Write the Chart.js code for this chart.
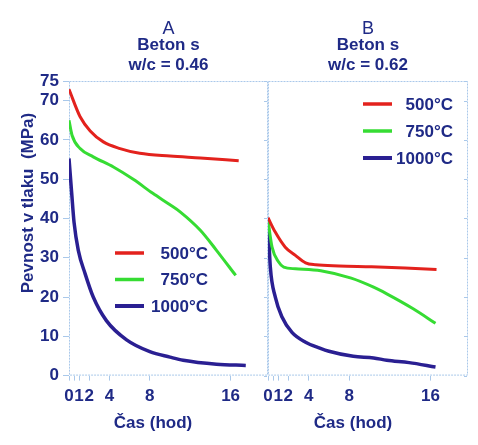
<!DOCTYPE html>
<html>
<head>
<meta charset="utf-8">
<script src="https://cdn.jsdelivr.net/npm/chart.js@4.4.1/dist/chart.umd.min.js"></script>
<style>
  html, body { margin: 0; padding: 0; background: #ffffff; }
  #wrap { position: relative; width: 478px; height: 445px; overflow: hidden; background: #ffffff; }
  .panel { position: absolute; top: 0; height: 445px; }
  #boxA { left: 0; width: 270px; }
  #boxB { left: 248px; width: 230px; }
</style>
</head>
<body>
<div id="wrap">
  <div class="panel" id="boxA"><canvas id="panelA"></canvas></div>
  <div class="panel" id="boxB"><canvas id="panelB"></canvas></div>
</div>
<script>
// ---- series labels, ticks and titles ----
const temps = ['500°C', '750°C', '1000°C'];
const yTickValues = [0, 10, 20, 30, 40, 50, 60, 70, 75];
const xTickValues = [0, 0.5, 1, 2, 4, 8, 16];
const xTickLabels = [0, 1, 2, 4, 8, 16];
const panelTitles = ['A', 'B'];
const panelSubtitles = [['Beton s', 'w/c = 0.46'], ['Beton s', 'w/c = 0.62']];
const xAxisTitle = 'Čas (hod)';
const yAxisTitle = 'Pevnost v tlaku  (MPa)';

// ---- panel A: w/c = 0.46 (time in hours, strength in MPa) ----
const hoursA500 = [0, 1.1, 2.1, 3.4, 5.05, 7, 10, 13, 16.8];
const strengthA500 = [72.9, 65.9, 62.3, 59.5, 57.8, 56.6, 55.9, 55.4, 54.7];
const hoursA750 = [0, 0.3, 1.1, 2.4, 4.4, 6.4, 8.3, 10, 11, 13, 14.6, 16.5];
const strengthA750 = [65, 61.2, 57.8, 55.7, 53.1, 49.9, 46.4, 43.5, 41.7, 37, 31.9, 25.5];
const hoursA1000 = [0, 0.27, 0.5, 0.92, 1.6, 2.4, 3.7, 5.7, 8, 10, 11.3, 14.6, 17.5];
const strengthA1000 = [55.3, 46.3, 39, 31.9, 25.9, 20, 14, 9.1, 6.1, 4.7, 3.9, 2.9, 2.6];

// ---- panel B: w/c = 0.62 ----
const hoursB500 = [0, 0.7, 1.7, 2.7, 3.7, 4.7, 7, 10.2, 13.5, 16.6];
const strengthB500 = [40.2, 36.6, 32.7, 30.6, 28.7, 28.2, 27.9, 27.7, 27.4, 27.0];
const hoursB750 = [0, 0.4, 1.05, 1.55, 2.7, 5.2, 8.2, 10.4, 11.7, 14.3, 16.5];
const strengthB750 = [39.5, 32.7, 28.9, 27.6, 27.2, 26.7, 24.8, 22.5, 20.8, 17, 13.3];
const hoursB1000 = [0, 0.23, 0.72, 1.38, 2.36, 3.7, 5.1, 6, 8.4, 10.4, 11.7, 13.9, 16.5];
const strengthB1000 = [39.5, 27.6, 20, 14.9, 11, 8.5, 7.0, 6.2, 4.9, 4.5, 3.9, 3.3, 2.2];

// ---- styling ----
const FONT = "'Liberation Sans', Arial, Helvetica, sans-serif";
const NAVY = '#1f2a86';
const FRAME = '#a9c8ea';
const lineColors = ['#e3221d', '#36dc33', '#2a1f92'];

const toPoints = (hours, values) => hours.map((h, i) => ({ x: h, y: values[i] }));

function makeDatasets(series) {
  return series.map((s, i) => ({
    label: temps[i],
    data: toPoints(s[0], s[1]),
    borderColor: lineColors[i],
    backgroundColor: lineColors[i],
    borderWidth: i === 2 ? 3.5 : 3,
    pointRadius: 0,
    cubicInterpolationMode: 'monotone',
    fill: false
  }));
}

// dotted frame round the plot area, with short inward ticks on its right side
const framePlugin = {
  id: 'frame',
  beforeDatasetsDraw(chart) {
    const { ctx, chartArea: a, scales } = chart;
    ctx.save();
    ctx.strokeStyle = FRAME;
    ctx.lineWidth = 1;
    ctx.setLineDash([2, 1]);
    ctx.strokeRect(a.left + 0.5, a.top + 0.5, a.right - a.left - 1, a.bottom - a.top - 1);
    ctx.setLineDash([]);
    yTickValues.forEach(v => {
      const y = Math.round(scales.y.getPixelForValue(v)) + 0.5;
      ctx.beginPath();
      ctx.moveTo(a.right - 1, y);
      ctx.lineTo(a.right - 4, y);
      ctx.stroke();
    });
    ctx.restore();
  }
};

// legend drawn inside the plot area: coloured bar then right-aligned label
const panelLegendPlugin = {
  id: 'panelLegend',
  afterDatasetsDraw(chart, args, opts) {
    const { ctx } = chart;
    ctx.save();
    ctx.font = 'bold 17px ' + FONT;
    ctx.textAlign = 'right';
    ctx.textBaseline = 'middle';
    chart.data.datasets.forEach((ds, i) => {
      const y = opts.rows[i];
      ctx.strokeStyle = ds.borderColor;
      ctx.lineWidth = i === 2 ? 4 : 3.5;
      ctx.beginPath();
      ctx.moveTo(opts.x0, y);
      ctx.lineTo(opts.x1, y);
      ctx.stroke();
      ctx.fillStyle = NAVY;
      ctx.fillText(ds.label, opts.textRight, y + 1);
    });
    ctx.restore();
  }
};

// axis captions
const captionsPlugin = {
  id: 'captions',
  afterDraw(chart, args, opts) {
    const { ctx, chartArea: a } = chart;
    ctx.save();
    ctx.fillStyle = NAVY;
    ctx.font = 'bold 17px ' + FONT;
    ctx.textAlign = 'center';
    ctx.textBaseline = 'middle';
    ctx.fillText(opts.xText, (a.left + a.right) / 2 + opts.xShift, opts.xY);
    if (opts.yText) {
      ctx.translate(opts.yX, opts.yY);
      ctx.rotate(-Math.PI / 2);
      ctx.fillText(opts.yText, 0, 0);
    }
    ctx.restore();
  }
};

function makeConfig(idx, datasets, cfg) {
  return {
    type: 'line',
    data: { datasets },
    plugins: [framePlugin, panelLegendPlugin, captionsPlugin],
    options: {
      responsive: true,
      maintainAspectRatio: false,
      animation: false,
      layout: { padding: { left: cfg.padLeft, right: cfg.padRight, top: 0, bottom: 32 } },
      plugins: {
        legend: { display: false },
        tooltip: { enabled: false },
        title: {
          display: true,
          text: panelTitles[idx],
          fullSize: false,
          color: NAVY,
          font: { family: FONT, size: 18, weight: 'normal', lineHeight: 0.59 },
          padding: { top: 24, bottom: 0 }
        },
        subtitle: {
          display: true,
          text: panelSubtitles[idx],
          fullSize: false,
          color: NAVY,
          font: { family: FONT, size: 17, weight: 'bold', lineHeight: 1.2 },
          padding: { top: 0, bottom: 5.6 }
        },
        panelLegend: cfg.legend,
        captions: cfg.captions
      },
      scales: {
        x: {
          type: 'linear',
          min: 0,
          max: 19.7,
          afterBuildTicks: s => { s.ticks = xTickValues.map(v => ({ value: v })); },
          ticks: {
            autoSkip: false,
            maxRotation: 0,
            color: NAVY,
            padding: 6,
            font: { family: FONT, size: 17, weight: 'bold' },
            callback: v => (xTickLabels.includes(v) ? String(v) : '')
          },
          grid: { drawOnChartArea: false, tickLength: 5, color: FRAME, tickColor: FRAME },
          border: { display: false }
        },
        y: {
          type: 'linear',
          min: 0,
          max: 75,
          display: cfg.showY,
          afterBuildTicks: s => { s.ticks = yTickValues.map(v => ({ value: v })); },
          afterFit: s => { s.width = cfg.showY ? 69 : 0; },
          ticks: {
            color: NAVY,
            padding: 4,
            font: { family: FONT, size: 17, weight: 'bold' }
          },
          grid: { drawOnChartArea: false, tickLength: 6, color: FRAME, tickColor: FRAME },
          border: { display: false }
        }
      }
    }
  };
}

new Chart(document.getElementById('panelA'), makeConfig(0,
  makeDatasets([[hoursA500, strengthA500], [hoursA750, strengthA750], [hoursA1000, strengthA1000]]),
  {
    padLeft: 0, padRight: 2, showY: true,
    legend: { x0: 115, x1: 144, textRight: 208, rows: [253, 279.5, 306] },
    captions: { xText: xAxisTitle, xShift: -15.5, xY: 423, yText: yAxisTitle, yX: 28, yY: 203 }
  }));

new Chart(document.getElementById('panelB'), makeConfig(1,
  makeDatasets([[hoursB500, strengthB500], [hoursB750, strengthB750], [hoursB1000, strengthB1000]]),
  {
    padLeft: 20, padRight: 10, showY: false,
    legend: { x0: 115, x1: 144, textRight: 205, rows: [104, 131, 158] },
    captions: { xText: xAxisTitle, xShift: -15, xY: 423, yText: null }
  }));
</script>
</body>
</html>
